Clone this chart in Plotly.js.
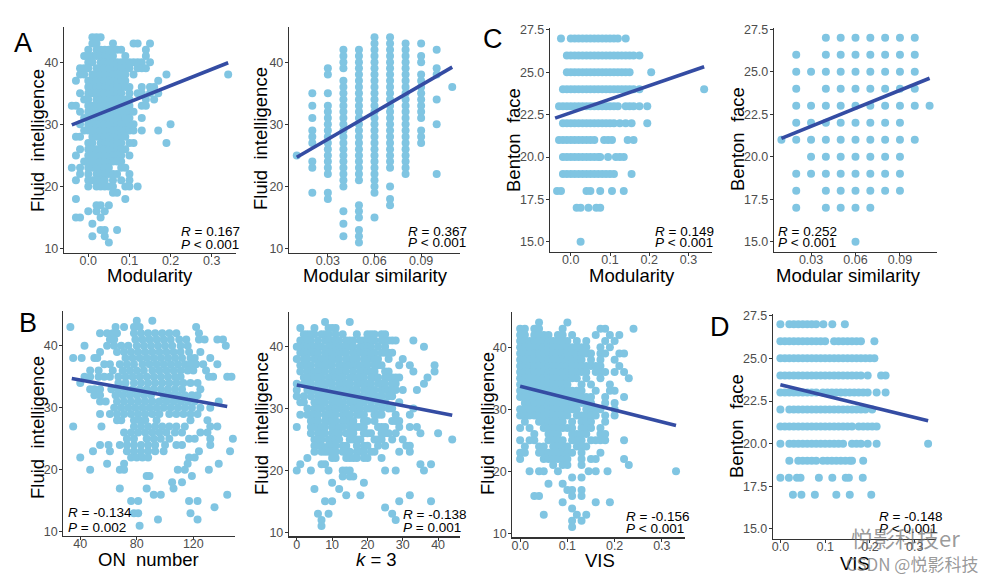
<!DOCTYPE html>
<html><head><meta charset="utf-8">
<script src="https://cdn.plot.ly/plotly-3.0.1.min.js"></script>
<style>html,body{margin:0;padding:0;background:#fff}#chart{width:996px;height:581px}</style>
</head><body><div id="chart"></div>
<script>
// ---------- DATA ----------
// Fluid-intelligence score levels (rows) used by A1, B1, B2, B3
const fiLevels = [44,43,42,41,40,39,38,37,36,35,34,33,32,31,30,29,28,27,26,25,24,23,22,21,20,19,18,17,16,15,14,13,12,11];

// A (left): Modularity (x100) per fluid-intelligence row
const a1Modularity = [
 [1,2,3],[1,2,6,11,12,15],[0,2,3,4,5,6,7,8,14],[-1,0,1,2,3,4,5,6,9,14],
 [0,1,3,4,5,6,7,8,9,10,11,12,13,15],[-2,-1,0,2,3,4,5,6,7,8,9,10,12,13,14],
 [-2,-1,1,2,3,4,5,6,7,8,9,11,19,34],[-3,0,1,2,3,4,5,6,7,8,9,17],
 [0,1,2,3,4,5,6,7,8,9,10,13,15,16],[-2,0,1,2,3,4,5,6,7,8,10,12,13,15,17],
 [-1,0,2,3,4,5,6,7,8,9,10,14,16],[-4,-3,0,1,2,3,4,5,6,7,8,9,10,13,14],
 [-2,0,1,2,3,4,5,6,7,8,9,10,11],[-1,0,1,2,3,4,5,6,7,8,9,10,13],
 [-2,0,1,2,3,4,5,6,7,8,9,10,11,20],[-1,0,1,2,3,4,5,6,7,8,9,10,11,13,17],
 [-3,-2,1,2,3,4,5,6,7,8,9],[0,1,3,4,5,6,7,8,10,11,19],
 [-2,0,1,2,3,4,5,6,7,8,9],[-3,0,1,2,3,4,5,6,7,8,10],
 [-1,0,1,2,3,4,5,6,7,8],[-4,-2,0,1,2,3,4,5,8,9],
 [-2,0,2,3,4,5,6,7,10],[-3,0,1,2,3,4,6,8,10],
 [0,2,3,4,5,6,9,10,12],[6,7],[-3,9],[2,3,5],[0,2,4],[-3,-2,3],[1],[3,4,7],[1,4],[5]
];

// A (right): Modular similarity columns (x100) with fluid-intelligence values
const a2Similarity = [1,2,3,4,5,6,7,8,9,10,11];
const a2Fluid = [
 [25],
 [35,33,31,29,28,27,24,23,19],
 [39,38,35,33,32,31,30,29,28,27,26,25,24,23,22,19,18],
 [42,41,40,39,37,36,35,34,33,32,31,30,29,28,27,26,25,24,23,22,21,20,16,14,12],
 [42,41,40,39,38,37,36,35,34,33,32,31,30,29,28,27,26,25,24,23,22,21,17,16,15,13,12,11],
 [44,43,42,41,40,39,38,37,36,35,34,33,32,31,30,29,28,27,26,25,24,23,22,21,20,19,15],
 [44,43,42,41,40,39,38,37,36,35,34,33,32,31,30,29,28,27,26,25,24,23,20,18,17],
 [43,42,41,40,39,38,37,36,35,34,33,32,31,30,29,28,27,26,25,24,23,22],
 [43,41,40,38,37,36,35,34,33,32,31,29,28,27],
 [42,39,38,34,30,22],
 [36]
];

// C (left): Benton face rows vs Modularity (x100)
const c1Levels = [27,26,25,24,23,22,21,20,19,18,17,15];
const c1Modularity = [
 [-2.5,0,1,2,3,4,5,6,7,8,9,10,11,12,14],
 [-1,0,1,2,3,4,5,6,7,8,9,10,11,12,13,14,15,16,17.5],
 [-1,0,1,2,3,4,5,6,7,8,9,10,11,12,13,14,15,20.5],
 [-2,-1,0,1,2,3,4,5,6,7,8,9,10,11,12,13,14,15,16,17.5,34],
 [-3,-2,-1,0,1,2,3,4,5,6,7,8,9,10,11,12,14,15,16,17.5,19.5],
 [-2,-1,0,1,2,3,4,5,6,7,8,9,10,11,12.5,14,15.5,19.5],
 [-3,-2,-1,0,1,2,3,4,5,6,8.5,9.5,10.5,14.5,16],
 [-2,-1,0,1,2,3,4,5,6,7,7.5,9.5,11.5,12.5,13.5],
 [-2,-1,0,1,2,3,4,5,6,7,8,9,10,11,15.5],
 [-3.5,-2.5,4,5,7.5,10.5,13.5],
 [1.5,2.5,4.5,6.5,7.5],
 [2.5]
];

// C (right): Benton face rows vs Modular similarity (x100)
const c2Levels = [27,26,25,24,23,22,21,20,19,18,17,15];
const c2Similarity = [
 [4,5,6,7,8,9,10],
 [2,4,5,6,7,8,9,10],
 [2,3,4,5,6,7,8,9,10],
 [2,4,5,6,7,8,9,10],
 [2,3,4,5,6,7,8,9,10,11],
 [2,3,4,5,6,7,8,9],
 [1,2,3,4,5,6,7,8,9,10],
 [3,4,5,6,7,8,9],
 [2,3,4,5,6,7,8,9],
 [2,4,5,6,7,8,9],
 [2,4,5,6,7],
 [6]
];

// B (1): ON number per fluid-intelligence row
const b1OnNumber = [
 [80,91],[33,65,71,78,82,122],[54,59,63,66,78,83,88,93,98,103,108,124],
 [61,64,79,84,89,94,99,104,110,115,124,128,137,141],
 [43,59,64,69,74,80,85,90,95,100,105,111,116,143],
 [54,66,71,76,81,86,91,96,101,106,111,117,125],
 [35,41,50,52,72,77,82,87,92,97,102,107,112,118,121,132],
 [57,61,68,73,78,84,89,94,99,104,109,114,118,122,127,137],
 [47,53,63,70,75,80,85,91,96,101,106,111,116,120,129],
 [43,47,53,57,61,67,72,77,82,87,92,97,102,107,111,131,134,144,147],
 [40,67,72,78,83,88,93,98,103,108,113,118,123],
 [47,50,54,62,67,72,77,82,87,92,97,102,107,112,125],
 [50,54,65,70,75,80,85,90,99,104,109,114,119,123],
 [54,58,66,71,76,81,86,91,96,101,106,111,116,121,138],
 [64,69,74,79,84,89,94,99,104,109,114,119,125,132],
 [54,61,66,71,76,81,86,91,96,103,108,113,118,123],
 [66,69,78,82,86,94,118,130],
 [35,55,78,83,88,93,98,103,108,114,132,137],
 [71,76,81,86,91,96,101,107,112,125,130],
 [73,78,87,92,97,103,117,121,132,148],
 [54,60,68,73,78,83,88,93,100,108,112,132],
 [49,61,73,78,83,88,93,99,124,146],
 [40,76,80,84,88,117,121],[59,71,116,138],[47,68,71,109,114,131],
 [87,89,119],[105,112],[68,87,106],[92,97,144],[76,81,117,123],[135],[78,81,118],[95,123],[82]
];

// B (2): k = 3 per fluid-intelligence row
const b2K3 = [
 [8,15],[1,5,9,10,11],[2,3,4,5,7,8,9,11,13,17,20,21,22,24,25],
 [1,2,3,4,6,8,9,10,11,12,14,15,16,18,19,20,21,22,24,25,26,27,28,33],
 [0,1,2,3,4,5,6,7,9,10,11,12,13,14,15,16,18,19,20,21,23,25,36],
 [1,2,3,4,5,6,8,9,10,11,12,13,14,16,17,18,19,20,21,22,24,25,26,27],
 [0,2,3,5,6,7,8,9,10,11,12,14,15,16,17,19,20,21,22,23,26,30],
 [1,2,3,4,6,7,8,9,10,12,13,14,15,16,17,18,19,20,22,23,24,29,32,39],
 [1,3,4,5,6,7,8,10,11,12,13,14,16,18,19,20,21,22,25,26,33,39],
 [2,3,4,5,6,7,9,10,11,12,13,15,16,17,18,19,21,22,23,25,26,27,28,29,37],
 [0,2,3,4,6,7,8,9,10,12,13,14,15,17,18,19,20,21,23,24,25,27,28,36],
 [0,3,4,5,6,7,8,10,11,12,13,14,15,16,17,19,20,21,22,24,25,26,27,28,30,34],
 [0,2,4,6,7,8,9,10,11,12,14,15,16,17,18,20,21,22,23,24,26,27],
 [1,2,5,6,7,8,10,11,12,13,15,16,17,18,19,21,23,24,25,29],
 [3,5,6,7,9,10,11,12,13,14,16,17,18,20,21,22,24,26,27,33],
 [1,3,4,5,6,8,9,10,11,13,14,15,17,18,19,22,23,24,28,32],
 [4,5,6,8,9,10,11,13,14,15,16,19,20,22,27,28,29],
 [0,4,5,6,7,8,10,11,12,13,15,16,17,18,19,23,24,25,29,32,34],
 [4,6,7,8,10,11,12,14,15,16,19,20,21,24,25,26,28,35,40],
 [5,6,7,9,10,11,12,15,16,17,18,22,23,24,27,30,44],
 [5,6,7,9,10,11,13,14,17,19,20,23,25,31,32],
 [5,7,8,9,10,11,13,14,15,17,18,19,21,22,29,32],
 [3,10,11,14,15,16,17,19,20,24],[1,7,8,35,38],[0,4,9,13,14,15,25,28,36],
 [13,15,16],[10,19],[5,12],[14,18,32],[8,10,29,38],[25],[6,9,27],[7,28],[7]
];

// B (3): VIS (x100) per fluid-intelligence row
const b3Vis = [
 [4,10],[0,1,3,4,9,17,18,24],[0,1,3,4,5,6,8,9,11,16,19,21],
 [0,1,2,3,4,5,6,7,8,9,10,12,14,18,20],
 [0,1,2,3,4,5,6,7,8,9,10,11,12,13,14,17,19],
 [0,1,2,3,4,5,6,7,8,9,10,11,12,13,14,15,17,18,21,22],
 [0,1,2,3,4,5,6,7,8,9,10,11,12,13,15,17,20],
 [0,1,2,3,4,5,6,7,8,9,10,11,12,13,14,15,16,17,21],
 [0,1,2,3,4,5,6,7,8,9,10,11,12,13,14,16,17,18,20,22],
 [0,1,2,3,4,5,6,7,8,9,10,11,12,14,17,23],
 [0,1,2,3,4,5,6,7,8,9,10,13,15,19],
 [0,1,2,3,4,5,6,7,8,9,10,11,12,13,16,19,20],
 [0,1,2,3,4,5,6,7,8,9,10,11,12,13,14,15,18,22],
 [1,2,3,4,5,6,7,8,9,10,11,12,13,14,15,18,20],
 [0,1,2,3,4,5,6,7,8,9,10,11,12,14,15,16,17,20],
 [0,1,2,3,4,5,6,7,8,9,10,12,13,14,15,16,18,20],
 [1,4,5,6,7,8,9,11,13,14,15,18],
 [0,2,5,6,7,8,9,10,11,13,14,15,17],
 [3,6,7,8,11,12,13,14,17,18],
 [0,2,3,6,7,8,9,11,12,13,15,16,17,18,22],
 [1,4,5,7,8,9,10,12,13,14],
 [0,1,4,5,6,7,8,9,10,11,13,17],
 [0,5,6,7,8,9,10,13,15,16,22],
 [7,9,10,13,23],[2,4,5,8,14.5,16,18.5,33],
 [11,13],[6,9],[10,11,13],[3,4,11,13],[9,16,19],[11],[5,12,14],[11,13],[11]
];

// D: Benton face rows vs VIS (x100)
const dLevels = [27,26,25,24,23,22,21,20,19,18,17];
const dVis = [
 [0,2,3,4,5,6,7,8,9.6,11.6,14.4],
 [0,1,2,3,4,5,6,7,8,9,10,12,13,14,15,16,17,18,21],
 [0,1,2,3,4,5,6,7,8,9,10,11,12,13,14,15,16,17,18,19,20,21],
 [0,1,2,3,4,5,6,7,8,9,10,11,12,13,14,15,16,17,18,19.5,22.5,23.5],
 [0,1,2,3,4,5,6,7,8,9.5,10.5,11.5,12.5,13.5,14.5,15.5,16.5,17.5,18.5,19.5,21.5,23.5],
 [0,2,3,4,5,6,7,8,9,10,11,12,13,14,15,16,17,18,19,20.5],
 [0,1,2,3,4,5,6,7,8,9,10,11,12,13,14,15,16,17.5,18.5,19.5,20.5,21.5],
 [0,2,3,4,5,6,7,8,9,10,11,12,13,14,16,17,18,19.5,21.5,33],
 [2,4,5,6,7,8,9.5,10.5,11.5,12.5,13.5,14.5,15.5,16,18.5],
 [0,1.9,3.7,4.5,8.6,11.6,14.6,15.3,18.4],
 [2.8,4.7,7.7,12.5,15.5,20.3]
];

// Fitted regression lines (end points)
const fitA1X = [-0.04, 0.34], fitA1Y = [29.9, 39.9];
const fitA2X = [0.01, 0.11],  fitA2Y = [24.7, 39.2];
const fitC1X = [-0.04, 0.34], fitC1Y = [22.3, 25.33];
const fitC2X = [0.01, 0.11],  fitC2Y = [21.08, 24.62];
const fitB1X = [34, 144],     fitB1Y = [34.7, 30.2];
const fitB2X = [0, 44],       fitB2Y = [33.8, 28.9];
const fitB3X = [0, 0.33],     fitB3Y = [33.7, 27.4];
const fitDX  = [0, 0.33],     fitDY  = [23.45, 21.35];

// Statistics text
const statR = ['0.167','0.367','0.149','0.252','-0.134','-0.138','-0.156','-0.148'];
const statP = ['< 0.001','< 0.001','< 0.001','< 0.001','= 0.002','= 0.001','< 0.001','< 0.001'];

// Axis titles and tick values
const xTitles = ['Modularity','Modular similarity','Modularity','Modular similarity','ON\u00A0 number','<i>k</i> = 3','VIS','VIS'];
const yTitles = ['Fluid\u00A0 intelligence','Fluid\u00A0 intelligence','Benton\u00A0 face','Benton\u00A0 face','Fluid\u00A0 intelligence','Fluid\u00A0 intelligence','Fluid\u00A0 intelligence','Benton\u00A0 face'];
const fiTicks = [10,20,30,40];
const bentonTicks = [15,17.5,20,22.5,25,27.5];
const modTicks = [0,0.1,0.2,0.3];
const simTicks = [0.03,0.06,0.09];
const onTicks = [40,80,120];
const kTicks = [0,10,20,30,40];
const panelLetters = ['A','B','C','D'];

// ---------- BUILD ----------
function fromRows(levels, rows, scale){ const X=[],Y=[]; levels.forEach((y,i)=>rows[i].forEach(x=>{X.push(x*scale);Y.push(y);})); return [X,Y]; }
function fromCols(cols, vals, scale){ const X=[],Y=[]; cols.forEach((x,i)=>vals[i].forEach(y=>{X.push(x*scale);Y.push(y);})); return [X,Y]; }

const pts = [
  fromRows(fiLevels, a1Modularity, 0.01),
  fromCols(a2Similarity, a2Fluid, 0.01),
  fromRows(c1Levels, c1Modularity, 0.01),
  fromRows(c2Levels, c2Similarity, 0.01),
  fromRows(fiLevels, b1OnNumber, 1),
  fromRows(fiLevels, b2K3, 1),
  fromRows(fiLevels, b3Vis, 0.01),
  fromRows(dLevels, dVis, 0.01)
];
const fits = [[fitA1X,fitA1Y],[fitA2X,fitA2Y],[fitC1X,fitC1Y],[fitC2X,fitC2Y],[fitB1X,fitB1Y],[fitB2X,fitB2Y],[fitB3X,fitB3Y],[fitDX,fitDY]];

const W=996, H=581;
const px = v => v/W, py = v => 1 - v/H;
// panel geometry in pixels: [left,right,top,bottom]
const geo = [
  [64,236,27,252.7],[289,460,27,252.7],[550,712,28.3,251.9],[774,937,27.6,251.9],
  [63.3,235,310.6,536],[289,460,311.7,536.3],[512.3,685,312.3,537.3],[773,935.5,314,539.2]
];
const xRanges = [[-0.059,0.359],[0.005,0.115],[-0.053,0.36],[0.005,0.115],[28,149.5],[-2.2,46.2],[-0.0166,0.349],[-0.0165,0.3465]];
const yRanges = [[9.35,45.65],[9.35,45.65],[14.4,27.6],[14.4,27.6],[9.35,45.65],[9.35,45.65],[9.35,45.65],[14.4,27.6]];
const xTickV = [modTicks,simTicks,modTicks,simTicks,onTicks,kTicks,modTicks,modTicks];
const xTickF = ['.1f','.2f','.1f','.2f','d','d','.1f','.1f'];
const yTickV = [fiTicks,fiTicks,bentonTicks,bentonTicks,fiTicks,fiTicks,fiTicks,bentonTicks];
const yTickF = ['d','d','.1f','.1f','d','d','d','.1f'];

const data = [];
const layout = {width:W,height:H,margin:{l:0,r:0,t:0,b:0},paper_bgcolor:'#fff',plot_bgcolor:'rgba(0,0,0,0)',showlegend:false,annotations:[]};
const baseFont = 'Liberation Sans, Arial, sans-serif';

for(let i=0;i<8;i++){
  const n = i+1, xa = 'x'+(n===1?'':n), ya = 'y'+(n===1?'':n);
  data.push({type:'scatter',mode:'markers',x:pts[i][0],y:pts[i][1],xaxis:xa,yaxis:ya,
    marker:{size:8,color:'#80C5E2',line:{width:0}},hoverinfo:'skip',cliponaxis:false});
  data.push({type:'scatter',mode:'lines',x:fits[i][0],y:fits[i][1],xaxis:xa,yaxis:ya,
    line:{color:'#344CA3',width:3.6},hoverinfo:'skip'});
  const g = geo[i];
  const ax = {domain:[px(g[0]),px(g[1])],range:xRanges[i],showline:true,linecolor:'#333',linewidth:1.2,
    ticks:'outside',ticklen:3,tickwidth:1,tickcolor:'#333',showgrid:false,zeroline:false,ticklabelstandoff:-7,
    tickvals:xTickV[i],tickformat:xTickF[i],tickfont:{family:baseFont,size:12.5,color:'#4D4D4D'},anchor:ya};
  const ay = {domain:[py(g[3]),py(g[2])],range:yRanges[i],showline:true,linecolor:'#333',linewidth:1.2,
    ticks:'outside',ticklen:3,tickwidth:1,tickcolor:'#333',showgrid:false,zeroline:false,ticklabelstandoff:-1,
    tickvals:yTickV[i],tickformat:yTickF[i],tickfont:{family:baseFont,size:12.5,color:'#4D4D4D'},anchor:xa};
  layout['xaxis'+(n===1?'':n)] = ax;
  layout['yaxis'+(n===1?'':n)] = ay;
}

// axis titles (pixel positions)
const xTitlePos = [[150,275],[375,275],[632,275],[848,275],[148,559],[376,559],[600,560],[855,563]];
const yTitlePos = [[38,141],[260,139],[513,140],[737,139],[37,428],[261,424],[487,424],[737,426]];
for(let i=0;i<8;i++){
  layout.annotations.push({xref:'paper',yref:'paper',x:px(xTitlePos[i][0]),y:py(xTitlePos[i][1]),xanchor:'center',yanchor:'middle',
    text:xTitles[i],showarrow:false,font:{family:baseFont,size:18.5,color:'#000'}});
  layout.annotations.push({xref:'paper',yref:'paper',x:px(yTitlePos[i][0]),y:py(yTitlePos[i][1]),xanchor:'center',yanchor:'middle',
    text:yTitles[i],textangle:-90,showarrow:false,font:{family:baseFont,size:18.5,color:'#000'}});
}
// statistics
const statPos = [[179,231,244],[406,231,242],[653,231,243],[776,231,243],[66,512,527],[401,514,527],[624,516,528],[877,516,528]];
for(let i=0;i<8;i++){
  const s = statPos[i];
  layout.annotations.push({xref:'paper',yref:'paper',x:px(s[0]),y:py(s[1]),xanchor:'left',yanchor:'middle',showarrow:false,
    text:'<i>R</i> = '+statR[i],font:{family:baseFont,size:13.5,color:'#000'}});
  layout.annotations.push({xref:'paper',yref:'paper',x:px(s[0]),y:py(s[2]),xanchor:'left',yanchor:'middle',showarrow:false,
    text:'<i>P</i> '+statP[i].replace('<','&lt;'),font:{family:baseFont,size:13.5,color:'#000'}});
}
// panel letters
const letterPos = [[23,43],[28,323],[493,39],[720,327]];
panelLetters.forEach((L,i)=>layout.annotations.push({xref:'paper',yref:'paper',x:px(letterPos[i][0]),y:py(letterPos[i][1]),
  xanchor:'center',yanchor:'middle',showarrow:false,text:L,font:{family:baseFont,size:27,color:'#000'}}));
// watermark
layout.annotations.push({xref:'paper',yref:'paper',x:px(905),y:py(537),xanchor:'center',yanchor:'middle',showarrow:false,
  text:'悦影科技er',font:{family:'Noto Sans CJK SC, sans-serif',size:22,color:'rgba(110,110,110,0.7)'}});
layout.annotations.push({xref:'paper',yref:'paper',x:px(912),y:py(563),xanchor:'center',yanchor:'middle',showarrow:false,
  text:'CSDN @悦影科技',font:{family:'Noto Sans CJK SC, sans-serif',size:17,color:'rgba(120,120,120,0.75)'}});

Plotly.newPlot('chart', data, layout, {staticPlot:true, displayModeBar:false});
</script></body></html>
